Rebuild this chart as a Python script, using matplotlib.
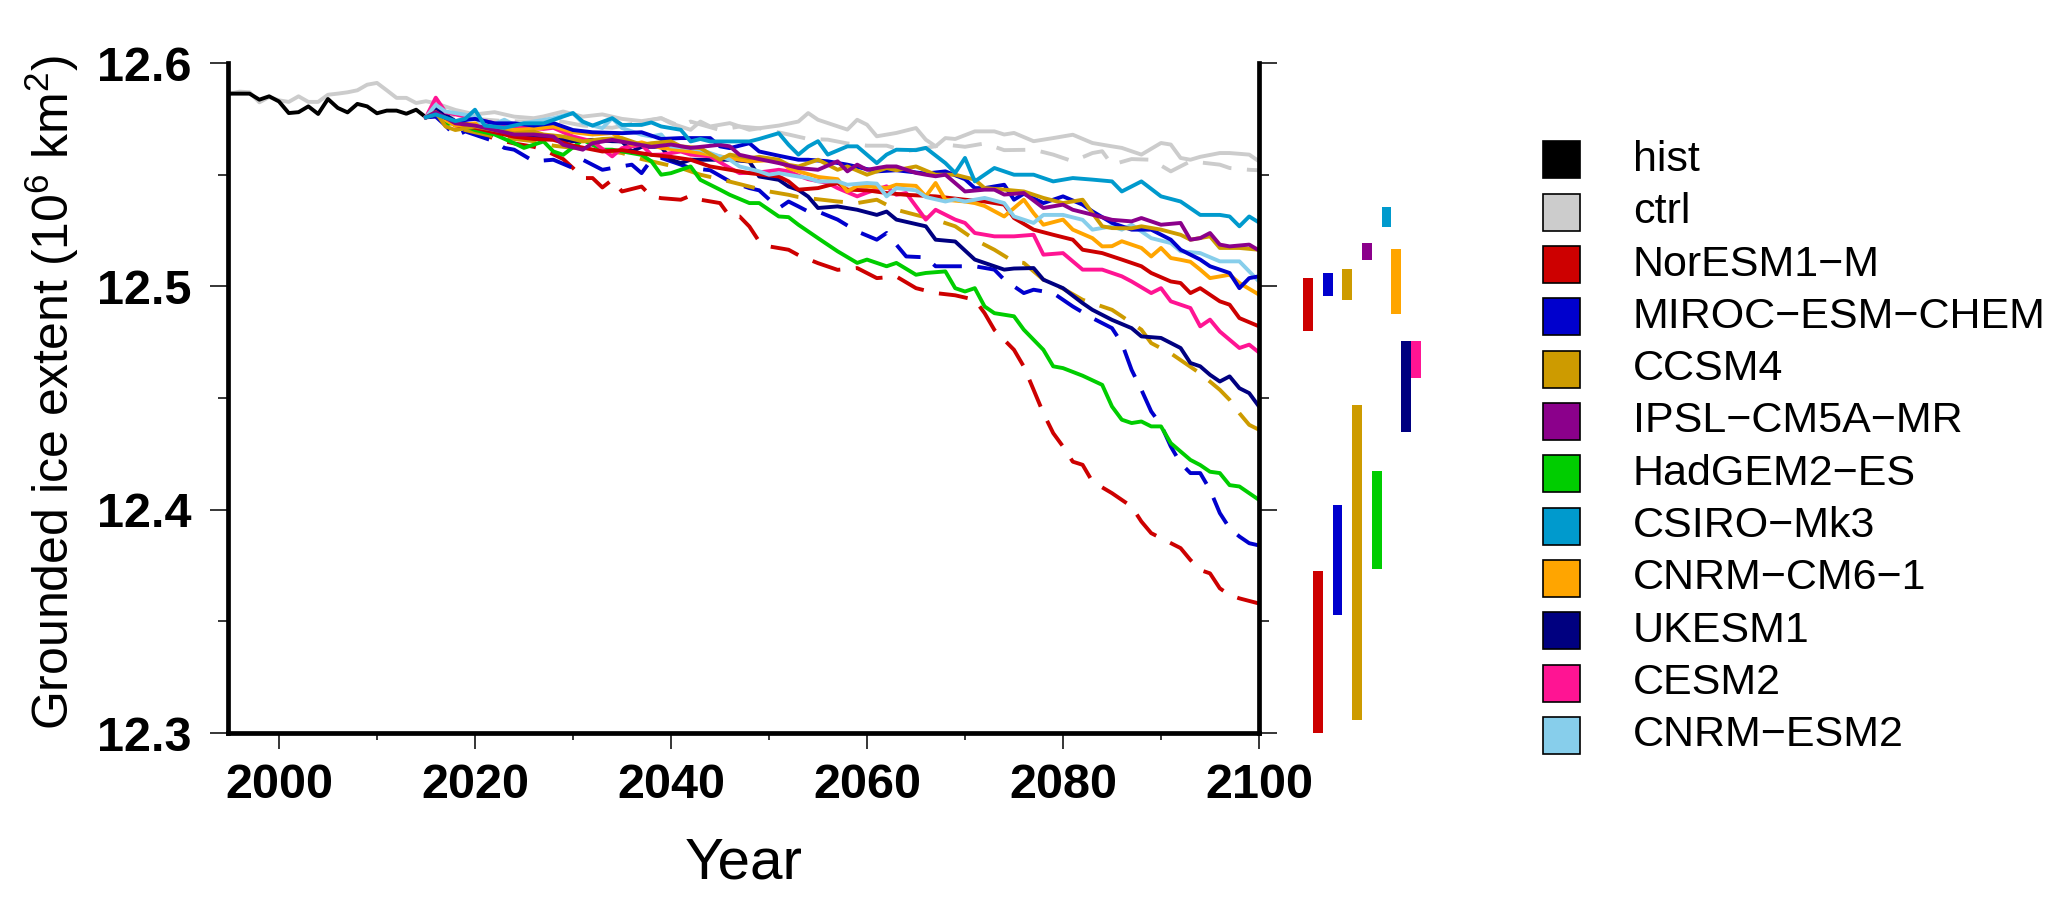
import matplotlib
matplotlib.use("Agg")
import matplotlib.pyplot as plt
from matplotlib.patches import Rectangle
from matplotlib.ticker import MultipleLocator

plt.rcParams['font.family'] = ['Liberation Sans', 'DejaVu Sans']
plt.rcParams['mathtext.default'] = 'regular'

# ---- data (10^6 km^2) ----
hist_yr = list(range(1995, 2016))
hist_v = [12.5863, 12.5863, 12.5863, 12.5836, 12.5851, 12.5828, 12.5776, 12.5780, 12.5806, 12.5772, 12.5839,
          12.5799, 12.5779, 12.5817, 12.5806, 12.5775, 12.5787, 12.5787, 12.5773, 12.5791, 12.5757]

ctrl_yr = list(range(1995, 2016)) + [2016, 2018, 2020, 2022, 2024, 2026, 2027, 2029, 2031, 2033, 2035, 2037, 2039,
           2040, 2042, 2043, 2044, 2046, 2048, 2049, 2051, 2053, 2054, 2055, 2058, 2059, 2060, 2061, 2063, 2065,
           2066, 2067, 2068, 2069, 2071, 2073, 2074, 2075, 2077, 2079, 2081, 2083, 2085, 2086, 2088, 2090, 2091,
           2092, 2093, 2094, 2096, 2097, 2099, 2100]
ctrl_v = [12.5863, 12.5872, 12.5869, 12.5824, 12.5848, 12.5833, 12.5826, 12.5851, 12.5826, 12.5826, 12.5858,
          12.5863, 12.5869, 12.5878, 12.5903, 12.5911, 12.5878, 12.5844, 12.5844, 12.5821, 12.5829,
          12.582, 12.579, 12.577, 12.578, 12.576, 12.5753, 12.5761, 12.5783, 12.576, 12.577, 12.575, 12.574,
          12.5753, 12.573, 12.5701, 12.5738, 12.5716, 12.5731, 12.5701, 12.5708, 12.572, 12.5738, 12.5776,
          12.5746, 12.5702, 12.5746, 12.5724, 12.5672, 12.5687, 12.5709, 12.5657, 12.5627, 12.5664, 12.566,
          12.5694, 12.5694, 12.568, 12.5687, 12.565, 12.5664, 12.5679, 12.5642, 12.5627, 12.562, 12.559,
          12.5642, 12.5635, 12.5575, 12.5567, 12.558, 12.5597, 12.5597, 12.559, 12.556]

ctrl2_yr = [2015, 2017, 2020, 2023, 2026, 2028, 2031, 2034, 2038, 2039, 2041, 2042, 2045, 2047, 2049, 2052, 2054,
            2056, 2058, 2060, 2062, 2064, 2066, 2068, 2070, 2072, 2074, 2077, 2079, 2081, 2083, 2084, 2085, 2087,
            2089, 2091, 2093, 2095, 2096, 2097, 2099, 2100]
ctrl2_v = [12.5757, 12.577, 12.575, 12.574, 12.5738, 12.5745, 12.572, 12.571, 12.5745, 12.5753, 12.5716, 12.5738,
           12.570, 12.5716, 12.5708, 12.568, 12.566, 12.5657, 12.564, 12.563, 12.563, 12.5605, 12.562, 12.5635,
           12.5625, 12.564, 12.561, 12.5612, 12.559, 12.556, 12.5597, 12.5605, 12.5545, 12.557, 12.5567, 12.5515,
           12.556, 12.555, 12.5545, 12.553, 12.5522, 12.552]

noresm_yr = [2015, 2016, 2018, 2020, 2022, 2024, 2026, 2028, 2030, 2033, 2035, 2038, 2040, 2042, 2044, 2046, 2048,
             2051, 2052, 2053, 2055, 2057, 2058, 2060, 2062, 2064, 2067, 2070, 2072, 2074, 2075, 2077, 2079, 2081,
             2082, 2084, 2086, 2088, 2089, 2091, 2092, 2093, 2094, 2096, 2097, 2098, 2100]
noresm_v = [12.5757, 12.578, 12.572, 12.571, 12.569, 12.567, 12.566, 12.5656, 12.563, 12.5604, 12.561, 12.5589,
            12.558, 12.5567, 12.5537, 12.5522, 12.5507, 12.5492, 12.547, 12.5433, 12.544, 12.5463, 12.5433, 12.543,
            12.5418, 12.541, 12.5403, 12.5388, 12.538, 12.5366, 12.5306, 12.5254, 12.5231, 12.5209, 12.5164,
            12.5149, 12.512, 12.509, 12.506, 12.5022, 12.5015, 12.497, 12.4992, 12.4933, 12.4918, 12.4858, 12.4821]

noresm2_yr = [2015, 2016, 2018, 2020, 2022, 2024, 2026, 2027, 2029, 2030, 2031, 2032, 2033, 2034, 2035, 2037, 2038,
              2039, 2041, 2042, 2043, 2045, 2046, 2047, 2048, 2049, 2050, 2052, 2053, 2055, 2057, 2059, 2061, 2063,
              2065, 2067, 2069, 2071, 2072, 2073, 2075, 2076, 2077, 2078, 2079, 2080, 2081, 2082, 2083, 2085, 2087,
              2088, 2089, 2092, 2093, 2094, 2095, 2096, 2097, 2098, 2100]
noresm2_v = [12.5757, 12.578, 12.572, 12.570, 12.566, 12.564, 12.5625, 12.5612, 12.557, 12.553, 12.5485, 12.5485,
             12.5443, 12.5477, 12.5425, 12.5447, 12.5403, 12.5395, 12.5388, 12.5406, 12.5388, 12.5373, 12.5313,
             12.5313, 12.5268, 12.5201, 12.5179, 12.5164, 12.514, 12.5104, 12.5074, 12.5082, 12.5037, 12.5044,
             12.4992, 12.497, 12.496, 12.494, 12.488, 12.4805, 12.4716, 12.4641, 12.4537, 12.4432, 12.4343, 12.4283,
             12.4215, 12.4201, 12.4126, 12.4074, 12.4014, 12.3947, 12.3895, 12.3828, 12.3775, 12.3730, 12.3715,
             12.3648, 12.3618, 12.3603, 12.358]

miroc_yr = [2015, 2016, 2018, 2020, 2022, 2024, 2026, 2028, 2030, 2032, 2035, 2037, 2039, 2041, 2044, 2045, 2046,
            2048, 2049, 2051, 2053, 2054, 2056, 2058, 2061, 2063, 2066, 2068, 2070, 2071, 2072, 2074, 2075, 2076,
            2078, 2080, 2082, 2083, 2085, 2087, 2089, 2091, 2092, 2094, 2095, 2097, 2098, 2099, 2100]
miroc_v = [12.5757, 12.577, 12.574, 12.575, 12.573, 12.573, 12.572, 12.5731, 12.570, 12.569, 12.5686, 12.569,
           12.566, 12.5664, 12.5664, 12.5627, 12.5619, 12.5641, 12.5604, 12.5585, 12.5567, 12.5567, 12.556, 12.5545,
           12.5515, 12.552, 12.5505, 12.5515, 12.548, 12.544, 12.544, 12.5455, 12.5388, 12.5415, 12.5373, 12.5403,
           12.5366, 12.5336, 12.5284, 12.5254, 12.5254, 12.5209, 12.5164, 12.512, 12.509, 12.506, 12.4992, 12.5037,
           12.5045]

miroc2_yr = [2015, 2016, 2017, 2018, 2019, 2022, 2023, 2024, 2026, 2028, 2030, 2031, 2033, 2034, 2036, 2037, 2038,
             2039, 2041, 2042, 2044, 2046, 2048, 2049, 2051, 2052, 2053, 2054, 2055, 2057, 2059, 2061, 2062, 2064,
             2066, 2067, 2069, 2071, 2073, 2074, 2076, 2077, 2079, 2080, 2081, 2083, 2085, 2086, 2087, 2088, 2089,
             2090, 2091, 2092, 2093, 2094, 2095, 2096, 2097, 2098, 2099, 2100]
miroc2_v = [12.5757, 12.576, 12.572, 12.5672, 12.5694, 12.5649, 12.562, 12.5612, 12.556, 12.5567, 12.553, 12.5567,
            12.5522, 12.553, 12.5545, 12.5507, 12.5567, 12.5575, 12.5545, 12.553, 12.552, 12.547, 12.544, 12.543,
            12.535, 12.538, 12.5358, 12.5335, 12.5335, 12.5299, 12.5246, 12.5209, 12.5239, 12.5134, 12.513, 12.509,
            12.509, 12.509, 12.5075, 12.503, 12.497, 12.4985, 12.497, 12.494, 12.491, 12.4858, 12.4813, 12.4746,
            12.4626, 12.4537, 12.444, 12.438, 12.4283, 12.4208, 12.4164, 12.4164, 12.4089, 12.3985, 12.3917, 12.388,
            12.385, 12.384]

ccsm_yr = [2015, 2016, 2017, 2018, 2020, 2022, 2024, 2026, 2027, 2029, 2031, 2033, 2035, 2037, 2038, 2040, 2041,
           2043, 2045, 2046, 2048, 2049, 2051, 2052, 2053, 2055, 2056, 2057, 2058, 2060, 2062, 2063, 2065, 2067,
           2069, 2071, 2072, 2074, 2076, 2078, 2080, 2082, 2083, 2084, 2085, 2087, 2088, 2090, 2092, 2093, 2095,
           2096, 2098, 2100]
ccsm_v = [12.5757, 12.578, 12.5716, 12.570, 12.5716, 12.570, 12.5686, 12.5693, 12.568, 12.5671, 12.5649, 12.566,
          12.5664, 12.5634, 12.5641, 12.5649, 12.5627, 12.5619, 12.5567, 12.559, 12.5574, 12.558, 12.5567, 12.5544,
          12.5537, 12.5567, 12.5545, 12.5522, 12.5537, 12.55, 12.553, 12.552, 12.5537, 12.55, 12.55, 12.5478,
          12.544, 12.5433, 12.5425, 12.5396, 12.5373, 12.5388, 12.5328, 12.5269, 12.5261, 12.526, 12.5269,
          12.5254, 12.5231, 12.5209, 12.5224, 12.5172, 12.5172, 12.5164]

ccsm2_yr = [2015, 2016, 2018, 2020, 2022, 2024, 2026, 2028, 2030, 2033, 2035, 2037, 2039, 2041, 2043, 2045, 2048,
            2050, 2052, 2053, 2055, 2057, 2059, 2061, 2063, 2065, 2067, 2069, 2071, 2073, 2075, 2076, 2078, 2080,
            2082, 2085, 2086, 2088, 2089, 2091, 2093, 2094, 2096, 2097, 2098, 2099, 2100]
ccsm2_v = [12.5757, 12.578, 12.571, 12.569, 12.567, 12.566, 12.565, 12.563, 12.562, 12.561, 12.5597, 12.557,
           12.555, 12.553, 12.55, 12.548, 12.5447, 12.5425, 12.541, 12.540, 12.539, 12.538, 12.5373, 12.5388,
           12.5343, 12.532, 12.5298, 12.5269, 12.5209, 12.5164, 12.511, 12.5105, 12.503, 12.499, 12.494, 12.4895,
           12.4866, 12.4806, 12.4746, 12.47, 12.464, 12.461, 12.4537, 12.4492, 12.4432, 12.438, 12.4358]

ipsl_yr = [2015, 2016, 2018, 2020, 2022, 2024, 2026, 2028, 2029, 2031, 2032, 2034, 2036, 2038, 2040, 2042, 2045,
           2046, 2047, 2049, 2051, 2053, 2055, 2057, 2058, 2059, 2060, 2062, 2063, 2065, 2066, 2067, 2068, 2070,
           2072, 2073, 2074, 2076, 2078, 2080, 2081, 2083, 2085, 2087, 2088, 2090, 2092, 2093, 2094, 2095, 2096,
           2097, 2099, 2100]
ipsl_v = [12.5757, 12.578, 12.573, 12.572, 12.570, 12.568, 12.568, 12.5671, 12.5634, 12.5612, 12.5641, 12.5656,
          12.564, 12.5625, 12.5635, 12.562, 12.5634, 12.5627, 12.5589, 12.557, 12.5552, 12.553, 12.5522, 12.556,
          12.5515, 12.5545, 12.5522, 12.5537, 12.5537, 12.5508, 12.550, 12.5493, 12.55, 12.5425, 12.5433, 12.5433,
          12.5411, 12.5418, 12.5351, 12.5366, 12.5343, 12.5321, 12.5298, 12.5291, 12.5306, 12.5276, 12.5284,
          12.5209, 12.5216, 12.5239, 12.5187, 12.5179, 12.5187, 12.5161]

hadgem_yr = [2015, 2016, 2017, 2018, 2020, 2022, 2024, 2025, 2027, 2028, 2029, 2031, 2033, 2034, 2037, 2038, 2039,
             2040, 2042, 2043, 2045, 2046, 2048, 2049, 2051, 2052, 2053, 2055, 2057, 2059, 2060, 2062, 2063, 2065,
             2066, 2068, 2069, 2070, 2071, 2072, 2073, 2075, 2076, 2078, 2079, 2080, 2082, 2084, 2085, 2086, 2087,
             2088, 2089, 2090, 2091, 2093, 2094, 2095, 2096, 2097, 2098, 2100]
hadgem_v = [12.5757, 12.5798, 12.5724, 12.5735, 12.570, 12.568, 12.5641, 12.562, 12.5649, 12.5604, 12.5589,
            12.5656, 12.5612, 12.5612, 12.5589, 12.556, 12.55, 12.5507, 12.5537, 12.5477, 12.5433, 12.541, 12.5373,
            12.5373, 12.5313, 12.531, 12.5276, 12.5216, 12.5157, 12.5105, 12.512, 12.509, 12.5105, 12.5052, 12.506,
            12.5067, 12.4992, 12.4977, 12.4992, 12.491, 12.488, 12.4866, 12.4806, 12.4716, 12.4642, 12.4634, 12.460,
            12.4559, 12.4462, 12.4403, 12.4388, 12.4395, 12.4373, 12.4373, 12.4298, 12.4223, 12.42, 12.417, 12.4164,
            12.411, 12.4104, 12.4044]

csiro_yr = [2015, 2016, 2018, 2019, 2020, 2021, 2023, 2025, 2027, 2030, 2031, 2032, 2034, 2035, 2037, 2038, 2039,
            2041, 2042, 2043, 2044, 2046, 2048, 2049, 2051, 2052, 2053, 2054, 2055, 2056, 2058, 2059, 2061, 2062,
            2063, 2065, 2066, 2068, 2069, 2070, 2071, 2073, 2075, 2077, 2079, 2081, 2083, 2085, 2086, 2088, 2090,
            2092, 2094, 2096, 2097, 2098, 2099, 2100]
csiro_v = [12.5757, 12.577, 12.574, 12.575, 12.5791, 12.572, 12.571, 12.573, 12.573, 12.5776, 12.5738, 12.572,
           12.5753, 12.5723, 12.5723, 12.5734, 12.5716, 12.5701, 12.5649, 12.566, 12.5649, 12.5649, 12.5649, 12.566,
           12.5686, 12.5634, 12.559, 12.5626, 12.565, 12.559, 12.5627, 12.5627, 12.5552, 12.559, 12.5612, 12.561,
           12.562, 12.5552, 12.5508, 12.5575, 12.547, 12.553, 12.55, 12.55, 12.547, 12.5485, 12.5478, 12.547,
           12.5425, 12.547, 12.5403, 12.538, 12.532, 12.532, 12.5313, 12.5269, 12.5313, 12.5286]

cnrm6_yr = [2015, 2016, 2018, 2020, 2022, 2024, 2026, 2028, 2030, 2032, 2034, 2035, 2036, 2037, 2039, 2040, 2042,
            2044, 2046, 2048, 2051, 2052, 2053, 2055, 2057, 2058, 2059, 2060, 2062, 2063, 2065, 2066, 2067, 2068,
            2070, 2071, 2072, 2074, 2076, 2077, 2078, 2080, 2081, 2083, 2084, 2085, 2086, 2088, 2089, 2090, 2091,
            2092, 2093, 2094, 2095, 2097, 2098, 2100]
cnrm6_v = [12.5757, 12.577, 12.572, 12.573, 12.570, 12.570, 12.5705, 12.5716, 12.569, 12.568, 12.5686, 12.566,
           12.5634, 12.5645, 12.562, 12.5615, 12.5604, 12.559, 12.5574, 12.556, 12.5567, 12.553, 12.5515, 12.549,
           12.548, 12.5425, 12.545, 12.5448, 12.544, 12.5455, 12.545, 12.5403, 12.5463, 12.5388, 12.538, 12.5373,
           12.536, 12.5313, 12.5388, 12.5328, 12.5276, 12.5299, 12.5254, 12.5216, 12.5179, 12.518, 12.5202,
           12.5172, 12.5134, 12.5172, 12.5127, 12.5119, 12.511, 12.5075, 12.5037, 12.5052, 12.5015, 12.4963]

ukesm_yr = [2015, 2016, 2018, 2020, 2022, 2024, 2025, 2027, 2029, 2030, 2032, 2034, 2035, 2036, 2037, 2039, 2040,
            2041, 2042, 2044, 2046, 2048, 2049, 2051, 2052, 2053, 2054, 2055, 2057, 2059, 2061, 2062, 2063, 2066,
            2067, 2069, 2071, 2072, 2074, 2075, 2077, 2078, 2080, 2082, 2083, 2085, 2087, 2088, 2090, 2092, 2093,
            2094, 2095, 2096, 2097, 2098, 2099, 2100]
ukesm_v = [12.5757, 12.5795, 12.574, 12.572, 12.570, 12.568, 12.5679, 12.567, 12.5656, 12.565, 12.5656, 12.565,
           12.5649, 12.5604, 12.5625, 12.5625, 12.5567, 12.5552, 12.5567, 12.5567, 12.5567, 12.5559, 12.5492,
           12.5477, 12.5447, 12.5432, 12.5402, 12.5351, 12.5358, 12.5343, 12.532, 12.5335, 12.5299, 12.5269,
           12.5209, 12.5201, 12.512, 12.5105, 12.5075, 12.508, 12.5082, 12.503, 12.4992, 12.4925, 12.4895, 12.485,
           12.4813, 12.4776, 12.4769, 12.4724, 12.4657, 12.4642, 12.4604, 12.4574, 12.4597, 12.4544, 12.4522,
           12.4462]

cesm_yr = [2015, 2016, 2017, 2019, 2021, 2023, 2025, 2027, 2028, 2030, 2032, 2034, 2035, 2037, 2038, 2039, 2041,
           2042, 2044, 2046, 2047, 2049, 2051, 2052, 2053, 2054, 2056, 2057, 2059, 2060, 2062, 2063, 2064, 2066,
           2067, 2069, 2070, 2071, 2073, 2075, 2077, 2078, 2080, 2082, 2084, 2086, 2087, 2089, 2090, 2091, 2093,
           2094, 2095, 2096, 2098, 2099, 2100]
cesm_v = [12.5757, 12.5845, 12.578, 12.576, 12.574, 12.572, 12.571, 12.5705, 12.571, 12.5671, 12.5649, 12.5582,
          12.5619, 12.5634, 12.5589, 12.559, 12.5604, 12.559, 12.5582, 12.553, 12.5507, 12.551, 12.5522, 12.5515,
          12.5496, 12.548, 12.5463, 12.544, 12.5403, 12.542, 12.5448, 12.541, 12.5418, 12.5299, 12.5343, 12.5299,
          12.5284, 12.5239, 12.5224, 12.5224, 12.5231, 12.5142, 12.5149, 12.5075, 12.5075, 12.5045, 12.5022,
          12.497, 12.4992, 12.4933, 12.4903, 12.4821, 12.4851, 12.4798, 12.4724, 12.4739, 12.4704]

cnrmesm_yr = [2015, 2016, 2017, 2018, 2020, 2021, 2023, 2024, 2026, 2028, 2030, 2031, 2033, 2034, 2035, 2037, 2038,
              2039, 2040, 2042, 2043, 2044, 2046, 2047, 2049, 2050, 2051, 2053, 2054, 2055, 2057, 2058, 2060, 2061,
              2062, 2063, 2065, 2066, 2068, 2069, 2070, 2072, 2074, 2075, 2077, 2078, 2080, 2082, 2083, 2085, 2086,
              2087, 2089, 2091, 2092, 2094, 2096, 2098, 2099, 2100]
cnrmesm_v = [12.5757, 12.5813, 12.5783, 12.5776, 12.5761, 12.5709, 12.5746, 12.5724, 12.5738, 12.5753, 12.5776,
             12.5731, 12.5709, 12.5753, 12.5709, 12.5679, 12.5671, 12.568, 12.5627, 12.5619, 12.5612, 12.5597,
             12.5567, 12.5537, 12.5515, 12.55, 12.5507, 12.5492, 12.5485, 12.547, 12.547, 12.5455, 12.5463, 12.546,
             12.5403, 12.544, 12.543, 12.540, 12.538, 12.539, 12.538, 12.5396, 12.5373, 12.5313, 12.5284, 12.532,
             12.532, 12.5298, 12.5254, 12.5269, 12.5254, 12.5276, 12.5216, 12.5194, 12.5157, 12.5149, 12.5112,
             12.5112, 12.5067, 12.5022]

# range bars drawn right of the panel
bar_color = ['#CD0000', '#CD0000', '#0000CD', '#0000CD', '#CD9B00', '#CD9B00', '#8B008B', '#00CD00',
             '#009ACD', '#FFA500', '#000080', '#FF1493']
bar_lo = [12.480, 12.300, 12.4956, 12.3527, 12.4937, 12.306, 12.5117, 12.3734, 12.5268, 12.4877, 12.4349, 12.4589]
bar_hi = [12.5038, 12.3726, 12.506, 12.4023, 12.5076, 12.447, 12.5195, 12.4175, 12.5354, 12.5167, 12.4755, 12.4754]

legend_names = ['hist', 'ctrl', 'NorESM1\u2212M', 'MIROC\u2212ESM\u2212CHEM', 'CCSM4', 'IPSL\u2212CM5A\u2212MR',
                'HadGEM2\u2212ES', 'CSIRO\u2212Mk3', 'CNRM\u2212CM6\u22121', 'UKESM1', 'CESM2', 'CNRM\u2212ESM2']
legend_colors = ['#000000', '#CCCCCC', '#CD0000', '#0000CD', '#CD9B00', '#8B008B', '#00CD00', '#009ACD',
                 '#FFA500', '#000080', '#FF1493', '#87CEEB']

fig = plt.figure(figsize=(20.67, 8.98), dpi=100)
ax = fig.add_axes([0.1103, 0.1837, 0.4988, 0.7461])

lw = 2.8
dash = (0, (7.5, 4))
series = [
    (ctrl_yr, ctrl_v, '#CCCCCC', '-'),
    (ctrl2_yr, ctrl2_v, '#CCCCCC', dash),
    (hist_yr, hist_v, '#000000', '-'),
    (noresm2_yr, noresm2_v, '#CD0000', dash),
    (miroc2_yr, miroc2_v, '#0000CD', dash),
    (ccsm2_yr, ccsm2_v, '#CD9B00', dash),
    (hadgem_yr, hadgem_v, '#00CD00', '-'),
    (ukesm_yr, ukesm_v, '#000080', '-'),
    (cesm_yr, cesm_v, '#FF1493', '-'),
    (noresm_yr, noresm_v, '#CD0000', '-'),
    (cnrm6_yr, cnrm6_v, '#FFA500', '-'),
    (cnrmesm_yr, cnrmesm_v, '#87CEEB', '-'),
    (miroc_yr, miroc_v, '#0000CD', '-'),
    (ccsm_yr, ccsm_v, '#CD9B00', '-'),
    (ipsl_yr, ipsl_v, '#8B008B', '-'),
    (csiro_yr, csiro_v, '#009ACD', '-'),
]
for yr, v, c, ls in series:
    ax.plot(yr, v, color=c, lw=lw, ls=ls, solid_joinstyle='round', dash_capstyle='butt')

bar_x = [2105.0 + 1.0 * i for i in range(len(bar_lo))]
bars = ax.bar(bar_x, [h - l for l, h in zip(bar_lo, bar_hi)], bottom=bar_lo, width=1.0,
              color=bar_color, align='center')
for p in bars.patches:
    p.set_clip_on(False)

ax.set_xlim(1994.8, 2100)
ax.set_ylim(12.3, 12.6)
ax.xaxis.set_major_locator(MultipleLocator(20))
ax.xaxis.set_minor_locator(MultipleLocator(10))
ax.yaxis.set_major_locator(MultipleLocator(0.1))
ax.yaxis.set_minor_locator(MultipleLocator(0.05))
ax.yaxis.set_major_formatter(plt.FormatStrFormatter('%.1f'))

ax.spines['top'].set_visible(False)
for s in ['left', 'bottom', 'right']:
    ax.spines[s].set_linewidth(3.4)
ax.tick_params(axis='x', which='major', length=11.5, width=1.1, pad=10, labelsize=35)
ax.tick_params(axis='x', which='minor', length=5, width=1.1)
ax.tick_params(axis='y', which='major', left=True, right=True, labelright=False,
               length=13, width=1.1, pad=13, labelsize=35)
ax.tick_params(axis='y', which='minor', left=True, right=True, length=7, width=1.1)
for lab in ax.get_xticklabels() + ax.get_yticklabels():
    lab.set_fontweight('bold')

ax.set_xlabel('Year', fontsize=42)
ax.xaxis.set_label_coords(0.5, -0.155)
ax.set_ylabel('Grounded ice extent (10$^6$ km$^2$)', fontsize=36)
ax.yaxis.set_label_coords(-0.1426, 0.509)

# legend: filled squares with black edge
for i, (name, col) in enumerate(zip(legend_names, legend_colors)):
    yc = 1 - (160 + 52.3 * i) / 898
    fig.patches.append(Rectangle((1543 / 2067, yc - 18.5 / 898), 37 / 2067, 37 / 898,
                                 transform=fig.transFigure, facecolor=col, edgecolor='black', lw=1.2))
    fig.text(1633 / 2067, yc, name, fontsize=31, va='center', ha='left')

fig.savefig('out.png', dpi=100)
